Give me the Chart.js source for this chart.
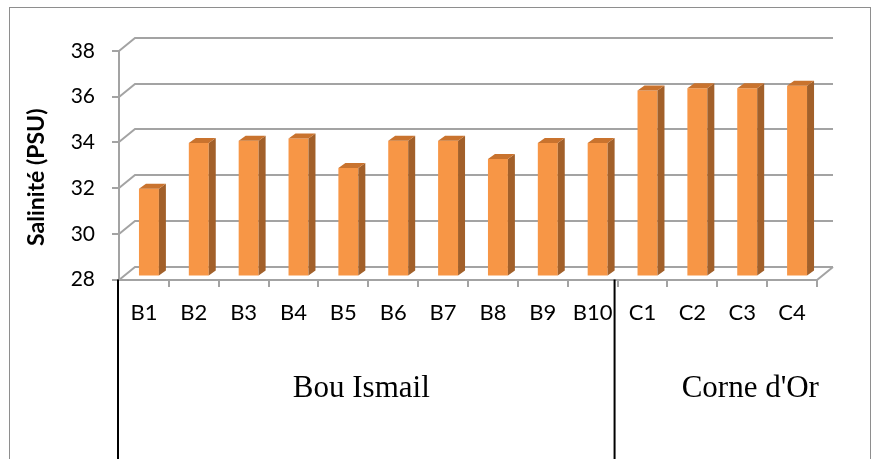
<!DOCTYPE html>
<html>
<head>
<meta charset="utf-8">
<script src="https://cdn.jsdelivr.net/npm/chart.js@4/dist/chart.umd.min.js"></script>
<style>
  html, body { margin: 0; padding: 0; background: #ffffff; }
  #wrap { width: 880px; height: 459px; position: relative; }
</style>
</head>
<body>
<div id="wrap"><canvas id="chart" width="880" height="459"></canvas></div>
<script>
// Sampling stations and measured salinity (PSU)
const categories = ['B1', 'B2', 'B3', 'B4', 'B5', 'B6', 'B7', 'B8', 'B9', 'B10', 'C1', 'C2', 'C3', 'C4'];
const salinity = [31.8, 33.8, 33.9, 34.0, 32.7, 33.9, 33.9, 33.1, 33.8, 33.8, 36.1, 36.2, 36.2, 36.3];
const yTickValues = [28, 30, 32, 34, 36, 38];
const groupNames = ['Bou Ismail', "Corne d'Or"];
const groupSizes = [10, 4];
const axisTitle = 'Salinité (PSU)';

// depth of the pseudo-3D box and of each column
const WALL_DX = 16, WALL_DY = -13;
const BAR_SHIFT_X = 5, BAR_SHIFT_Y = -4;
const BAR_DX = 7, BAR_DY = -5;
const GRID_COLOR = '#a3a3a3';

function line(ctx, pts) {
  ctx.beginPath();
  ctx.moveTo(pts[0][0], pts[0][1]);
  for (let i = 1; i < pts.length; i++) ctx.lineTo(pts[i][0], pts[i][1]);
  ctx.stroke();
}

const box3d = {
  id: 'box3d',
  beforeDatasetsDraw(chart) {
    const ctx = chart.ctx;
    const { left, right } = chart.chartArea;
    const y = chart.scales.y;
    ctx.save();
    ctx.strokeStyle = GRID_COLOR;
    ctx.lineWidth = 2;
    yTickValues.forEach(v => {
      const yy = Math.round(y.getPixelForValue(v));
      line(ctx, [[left, yy], [left + WALL_DX, yy + WALL_DY], [right + WALL_DX, yy + WALL_DY]]);
      line(ctx, [[left - 7, yy], [left, yy]]);
    });
    // floor front edge
    const yb = Math.round(y.getPixelForValue(yTickValues[0]));
    line(ctx, [[left, yb], [right, yb], [right + WALL_DX, yb + WALL_DY]]);
    // front vertical axis
    line(ctx, [[left, Math.round(y.getPixelForValue(yTickValues[yTickValues.length - 1]))], [left, yb]]);
    // category tick marks under the floor
    const x = chart.scales.x;
    const n = categories.length;
    for (let i = 0; i < n; i++) {
      const bx = i < n - 1 ? (x.getPixelForTick(i) + x.getPixelForTick(i + 1)) / 2 : right;
      const px = Math.round(bx);
      line(ctx, [[px, yb], [px, yb + 7]]);
    }
    ctx.restore();

    ctx.save();
    ctx.translate(BAR_SHIFT_X, BAR_SHIFT_Y);
  },
  afterDatasetsDraw(chart) {
    const ctx = chart.ctx;
    const meta = chart.getDatasetMeta(0);
    meta.data.forEach(bar => {
      const p = bar.getProps(['x', 'y', 'base', 'width'], true);
      const l = p.x - p.width / 2, r = p.x + p.width / 2;
      // side face
      ctx.fillStyle = '#a2602a';
      ctx.beginPath();
      ctx.moveTo(r, p.y); ctx.lineTo(r + BAR_DX, p.y + BAR_DY);
      ctx.lineTo(r + BAR_DX, p.base + BAR_DY); ctx.lineTo(r, p.base);
      ctx.closePath(); ctx.fill();
      // top face
      ctx.fillStyle = '#c9732e';
      ctx.beginPath();
      ctx.moveTo(l, p.y); ctx.lineTo(l + BAR_DX, p.y + BAR_DY);
      ctx.lineTo(r + BAR_DX, p.y + BAR_DY); ctx.lineTo(r, p.y);
      ctx.closePath(); ctx.fill();
    });
    ctx.restore();
  },
  afterDraw(chart) {
    const ctx = chart.ctx;
    const { left, top, bottom } = chart.chartArea;
    const x = chart.scales.x;
    const W = chart.width, H = chart.height;

    // outer frame
    ctx.save();
    ctx.strokeStyle = '#8e8e8e';
    ctx.lineWidth = 1;
    ctx.strokeRect(9.5, 7.5, W - 19, H + 20);
    ctx.restore();

    // axis title
    ctx.save();
    ctx.translate(37, (top + bottom) / 2 + 12);
    ctx.rotate(-Math.PI / 2);
    ctx.font = 'bold 23px Lato';
    ctx.fillStyle = '#000';
    ctx.textAlign = 'center';
    ctx.textBaseline = 'middle';
    ctx.fillText(axisTitle, 0, 0);
    ctx.restore();

    // station groups underneath the category labels
    ctx.save();
    ctx.strokeStyle = '#000';
    ctx.lineWidth = 2;
    ctx.fillStyle = '#000';
    ctx.font = '31px "Liberation Serif"';
    ctx.textAlign = 'center';
    ctx.textBaseline = 'middle';
    const edges = [left - 1];
    let idx = 0;
    groupSizes.forEach(size => {
      idx += size;
      const e = idx < categories.length
        ? (x.getPixelForTick(idx - 1) + x.getPixelForTick(idx)) / 2 - 3
        : W;
      edges.push(e);
    });
    const nudge = [-5, 3];
    for (let g = 0; g < groupNames.length; g++) {
      const e = edges[g];
      if (e < W) line(ctx, [[e, bottom], [e, H]]);
      ctx.fillText(groupNames[g], (edges[g] + edges[g + 1]) / 2 + nudge[g], bottom + 109);
    }
    ctx.restore();
  }
};

new Chart(document.getElementById('chart'), {
  type: 'bar',
  data: {
    labels: categories,
    datasets: [{
      data: salinity,
      base: yTickValues[0],
      backgroundColor: '#f79646',
      borderWidth: 0,
      categoryPercentage: 1,
      barPercentage: 0.4,
      clip: false
    }]
  },
  options: {
    responsive: false,
    animation: false,
    events: [],
    layout: { padding: { top: 51, right: 63, left: 0, bottom: 0 } },
    plugins: { legend: { display: false }, tooltip: { enabled: false } },
    scales: {
      x: {
        grid: { display: false, drawTicks: false },
        border: { display: false },
        ticks: {
          font: { family: 'Lato', size: 22 },
          color: '#000',
          padding: 20,
          autoSkip: false,
          maxRotation: 0
        },
        afterFit(s) { s.height = 179.5; }
      },
      y: {
        min: yTickValues[0],
        max: yTickValues[yTickValues.length - 1],
        beginAtZero: false,
        grid: { display: false, drawTicks: false },
        border: { display: false },
        ticks: {
          stepSize: 2,
          font: { family: 'Lato', size: 21 },
          color: '#000',
          padding: 24
        },
        afterFit(s) { s.width = 119; }
      }
    }
  },
  plugins: [box3d]
});
</script>
</body>
</html>
